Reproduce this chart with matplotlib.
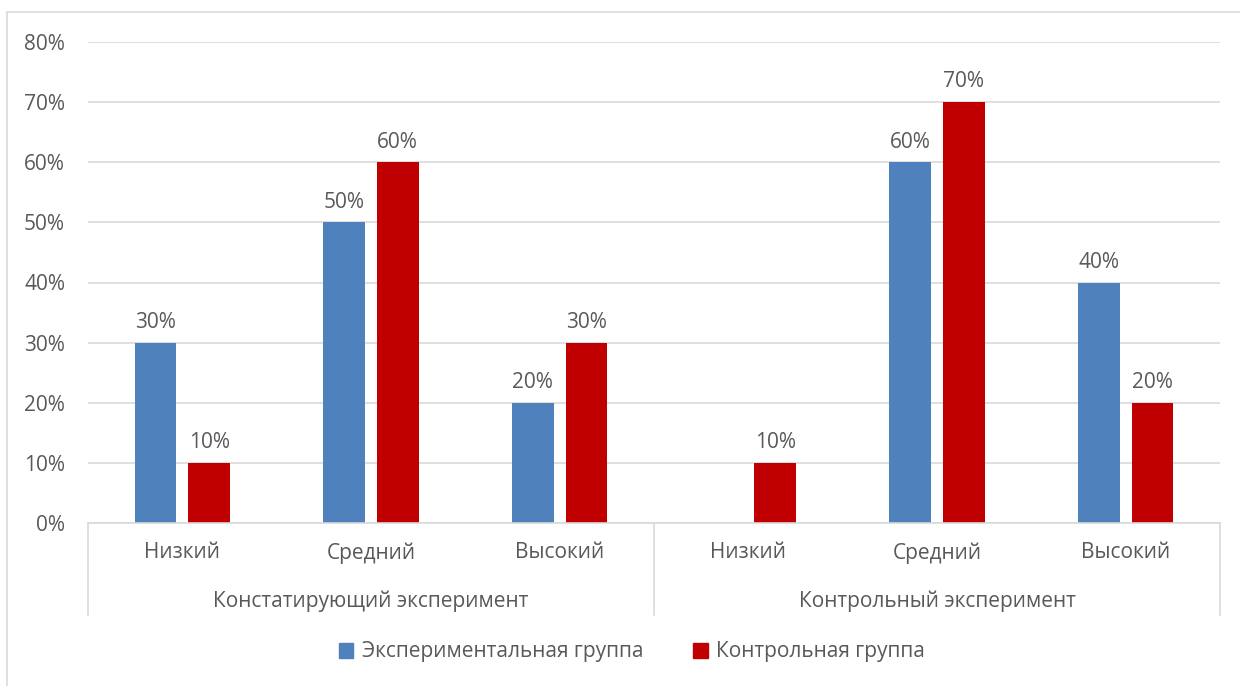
import matplotlib
matplotlib.use("Agg")
import matplotlib.pyplot as plt
from matplotlib.patches import Rectangle, Patch
import numpy as np

# data
levels = ["Низкий", "Средний", "Высокий", "Низкий", "Средний", "Высокий"]
stages = ["Констатирующий эксперимент", "Контрольный эксперимент"]
series_names = ["Экспериментальная группа", "Контрольная группа"]
exp_group = [30, 50, 20, 0, 60, 40]
ctrl_group = [10, 60, 30, 10, 70, 20]
colors = ["#4F81BD", "#C00000"]

plt.rcParams["font.family"] = ["Open Sans", "DejaVu Sans"]
txt = "#595959"
fs = 15

fig = plt.figure(figsize=(12.4, 6.86), dpi=100)
ax = fig.add_axes([88 / 1240, 1 - 523 / 686, (1220 - 88) / 1240, (523 - 42) / 686])

# outer chart border
fig.patches.append(Rectangle((7 / 1240, -0.5), 2, 0.5 + 1 - 12 / 686, transform=fig.transFigure,
                             fill=False, edgecolor="#D9D9D9", linewidth=1.2))

x = np.arange(len(levels))
w = 0.222
off = 0.142
b1 = ax.bar(x - off, exp_group, w, color=colors[0])
b2 = ax.bar(x + off, ctrl_group, w, color=colors[1])

for bars, vals in ((b1, exp_group), (b2, ctrl_group)):
    for b, v in zip(bars, vals):
        if v == 0:
            continue
        ax.annotate(f"{v}%", (b.get_x() + b.get_width() / 2, v), xytext=(0, 7),
                    textcoords="offset points", ha="center", va="bottom",
                    fontsize=fs, color=txt)

ax.set_xlim(-0.5, len(levels) - 0.5)
ax.set_ylim(0, 80)
ax.set_yticks(range(0, 81, 10))
ax.set_yticklabels([f"{t}%" for t in range(0, 81, 10)])
ax.tick_params(axis="y", length=0, pad=16.5, labelsize=fs, labelcolor=txt)
ax.set_xticks([])
ax.grid(axis="y", color="#D9D9D9", linewidth=1.2)
ax.set_axisbelow(True)
for s in ("top", "right", "left"):
    ax.spines[s].set_visible(False)
ax.spines["bottom"].set_color("#D9D9D9")
ax.spines["bottom"].set_linewidth(1.2)

# multi-level category axis
tr = ax.get_xaxis_transform()
for xs in (-0.5, 2.5, 5.5):
    ax.plot([xs, xs], [0, -0.191], transform=tr, clip_on=False, color="#D9D9D9", lw=1.2)
for i, lab in enumerate(levels):
    ax.text(i, -0.062, lab, transform=tr, ha="center", va="center", fontsize=fs, color=txt)
for j, lab in enumerate(stages):
    ax.text(3 * j + 1, -0.162, lab, transform=tr, ha="center", va="center", fontsize=fs, color=txt)

handles = [Patch(color=c) for c in colors]
fig.legend(handles, series_names, loc="center", bbox_to_anchor=(632 / 1240, 1 - 652 / 686),
           ncol=2, frameon=False, fontsize=fs, labelcolor=txt, handlelength=0.7,
           handleheight=0.7, handletextpad=0.4, columnspacing=2.4)

fig.savefig("out.png", dpi=100)
